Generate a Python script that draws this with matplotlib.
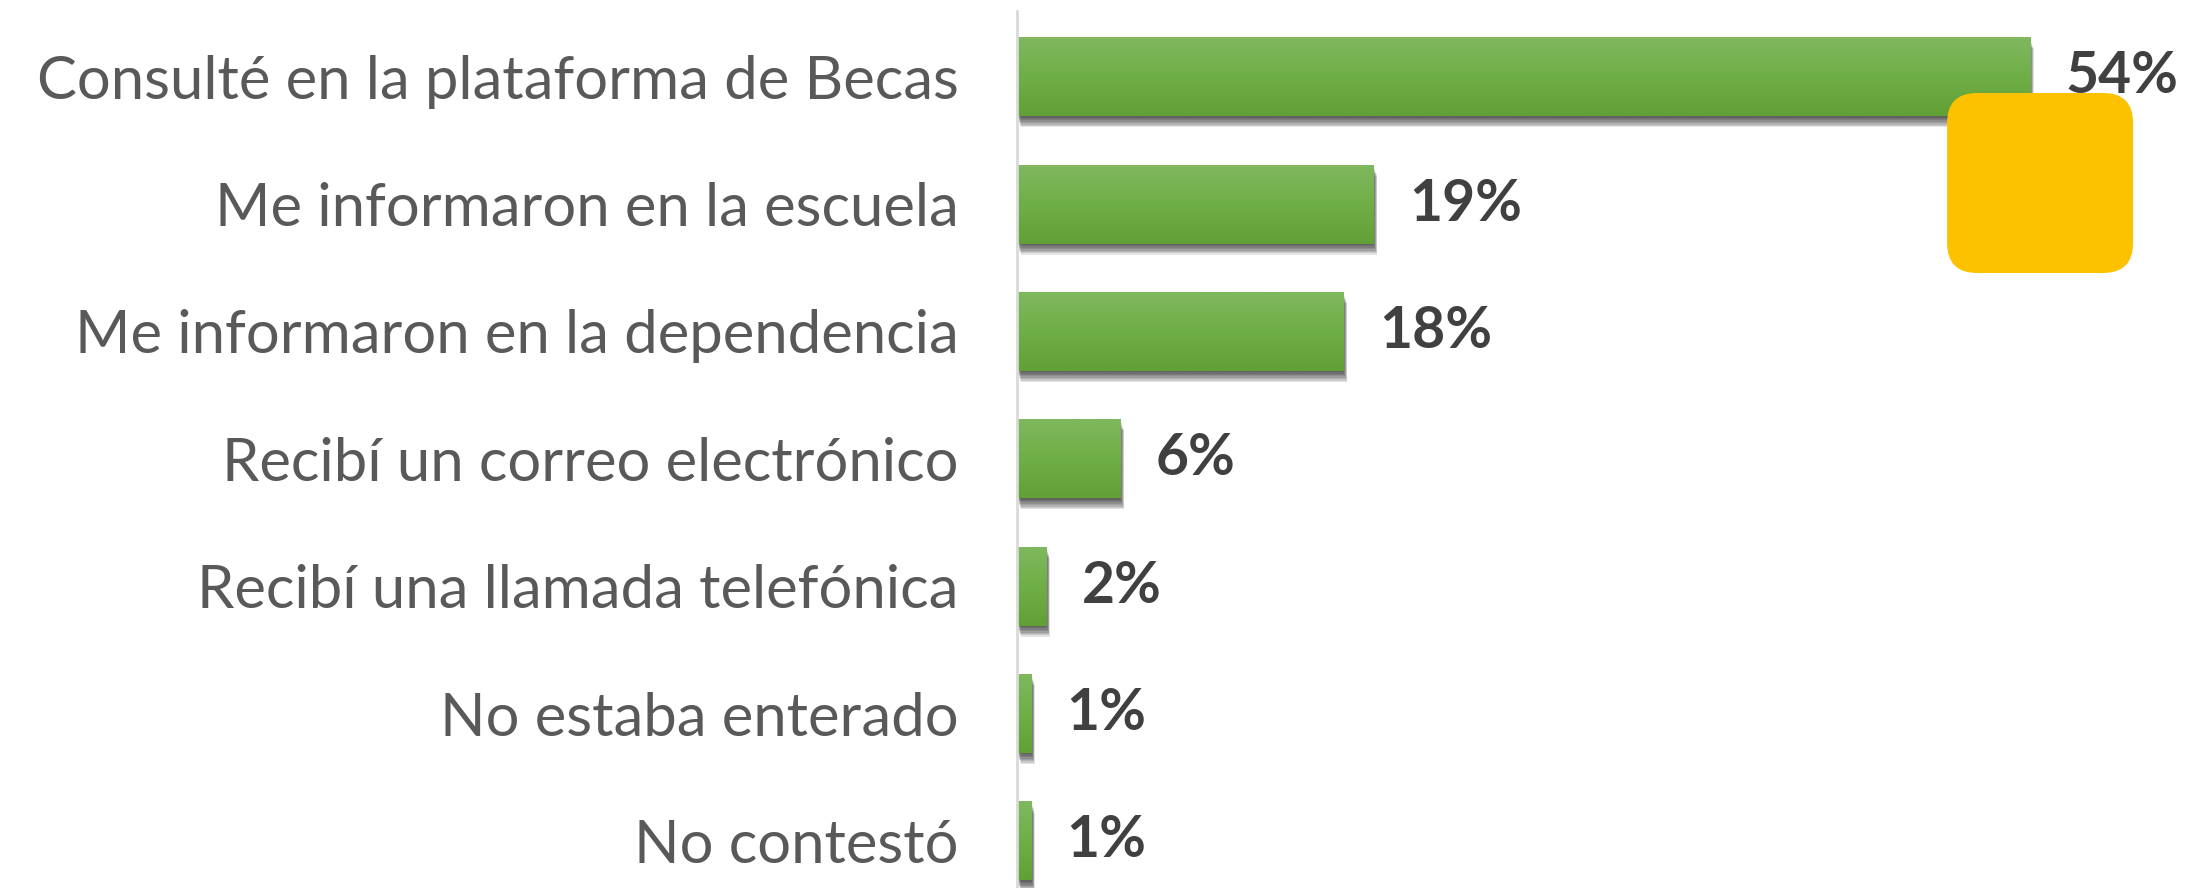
import numpy as np
import matplotlib
matplotlib.use("Agg")
import matplotlib.pyplot as plt
from matplotlib.patches import FancyBboxPatch
from matplotlib.colors import LinearSegmentedColormap
import matplotlib.patheffects as pe

categorias = [
    "Consulté en la plataforma de Becas",
    "Me informaron en la escuela",
    "Me informaron en la dependencia",
    "Recibí un correo electrónico",
    "Recibí una llamada telefónica",
    "No estaba enterado",
    "No contestó",
]
porcentajes = [54.0, 19.0, 17.4, 5.5, 1.55, 0.75, 0.75]
etiquetas = ["54%", "19%", "18%", "6%", "2%", "1%", "1%"]

fig = plt.figure(figsize=(21.88, 8.88), dpi=100)

# caja amarilla decorativa detrás de la barra mayor
caja = FancyBboxPatch((0.8899, 0.6926), 0.085, 0.2027,
                      boxstyle="round,pad=0,rounding_size=0.0137",
                      mutation_aspect=2188 / 888,
                      transform=fig.transFigure, facecolor="#FCC200",
                      edgecolor="none", zorder=0)
fig.patches.append(caja)

ax = fig.add_axes([1017 / 2188, 0, 1 - 1017 / 2188, 1 - 11 / 888])
ax.patch.set_alpha(0)

y = np.arange(len(categorias))
alto = 0.62

# sombra difusa debajo de las barras
sombra = [pe.SimplePatchShadow(offset=(0.35 * k, -1.0 * k), shadow_rgbFace="black", alpha=0.11)
          for k in range(1, 9)]
barras = ax.barh(y, porcentajes, height=alto, color="#70AD47", zorder=2)
for b in barras:
    b.set_path_effects(sombra + [pe.Normal()])

# degradado vertical dentro de cada barra
cmap = LinearSegmentedColormap.from_list("verde", ["#7FB85E", "#6FAF46", "#60A035"])
grad = np.linspace(0, 1, 64).reshape(-1, 1)
for b in barras:
    x0, y0 = b.get_x(), b.get_y()
    im = ax.imshow(grad, cmap=cmap, aspect="auto", zorder=3,
                   extent=(x0, x0 + b.get_width(), y0 + b.get_height(), y0))
    im.set_clip_path(b)

# etiquetas de valor
for i, (v, t) in enumerate(zip(porcentajes, etiquetas)):
    ax.text(v + 1.9, i, t, va="center", ha="left", fontsize=41,
            fontweight="bold", color="#404040", family="Lato", zorder=4)

ax.set_xlim(0, (2188 - 1017) / 18.76)
ax.set_ylim(6.37, -0.516)
ax.set_yticks(y)
ax.set_yticklabels(categorias, fontsize=43, color="#595959", family="Lato")
ax.tick_params(axis="y", length=0, pad=42)
ax.set_xticks([])

for s in ["top", "right", "bottom"]:
    ax.spines[s].set_visible(False)
ax.spines["left"].set_color("#D9D9D9")
ax.spines["left"].set_linewidth(2)
ax.spines["left"].set_zorder(5)

fig.savefig("out.png", dpi=100)
